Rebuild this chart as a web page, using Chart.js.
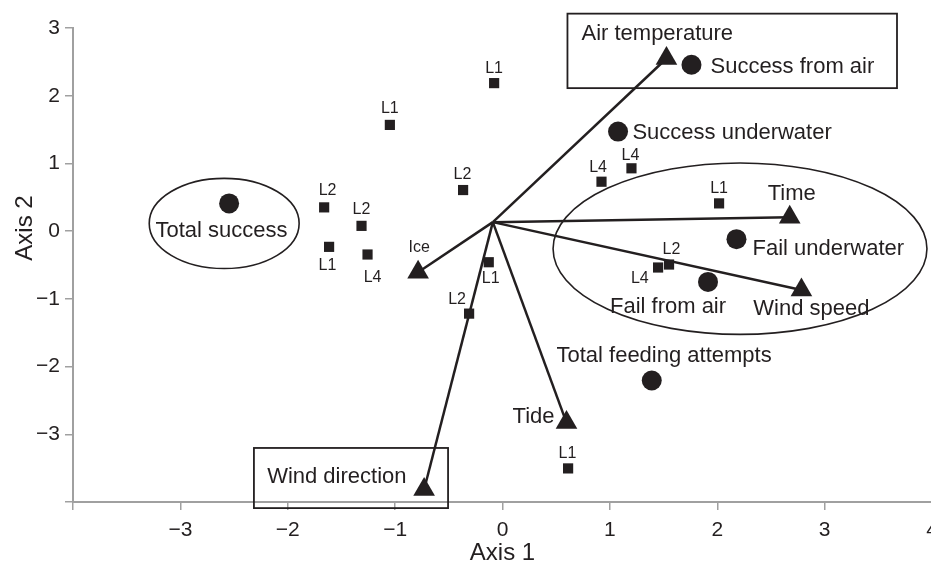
<!DOCTYPE html>
<html><head><meta charset="utf-8">
<script src="https://cdn.jsdelivr.net/npm/chart.js@4.4.1/dist/chart.umd.min.js"></script>
<style>
html,body{margin:0;padding:0;background:#fff;overflow:hidden}
#wrap{width:931px;height:567px;overflow:hidden;position:relative;background:#fff}
canvas{display:block}
</style>
</head><body>
<div id="wrap"><canvas id="c" width="1000" height="567"></canvas></div>
<script>
// ---- data ----
const origin = [-0.09, 0.133];

const variableNames = ['Air temperature', 'Time', 'Wind speed', 'Tide', 'Wind direction', 'Ice'];
const variableX = [1.527, 2.675, 2.784, 0.596, -0.730, -0.786];
const variableY = [2.550, 0.207, -0.870, -2.827, -3.815, -0.607];

const responseNames = ['Total success', 'Success from air', 'Success underwater', 'Fail underwater', 'Fail from air', 'Total feeding attempts'];
const responseX = [-2.546, 1.760, 1.076, 2.179, 1.914, 1.390];
const responseY = [0.410, 2.457, 1.470, -0.118, -0.750, -2.205];

const siteNames = ['L1', 'L1', 'L2', 'L4', 'L4', 'L1', 'L2', 'L2', 'L1', 'L4', 'L1', 'L2', 'L2', 'L4', 'L1'];
const siteX = [-0.078, -1.049, -0.367, 0.922, 1.201, 2.017, -1.661, -1.313, -1.615, -1.257, -0.128, -0.311, 1.551, 1.449, 0.611];
const siteY = [2.186, 1.569, 0.607, 0.730, 0.928, 0.410, 0.351, 0.078, -0.232, -0.345, -0.459, -1.218, -0.493, -0.537, -3.504];

const xTicks = [-4, -3, -2, -1, 0, 1, 2, 3, 4];
const yTicks = [-4, -3, -2, -1, 0, 1, 2, 3];

// group outlines (data units): ellipses [cx, cy, rx, ry], boxes [x1, yTop, x2, yBottom]
const ellipses = [[-2.592, 0.114, 0.698, 0.666], [2.212, -0.259, 1.741, 1.266]];
const boxes = [[0.605, 3.212, 3.674, 2.112], [-2.315, -3.202, -0.507, -4.090]];

// ---- label placement (pixels, relative to marker; dy = cap centre) ----
const variableLabelPos = [
  {dx: -85, dy: -26, align: 'left', size: 22},
  {dx: 2, dy: -25, align: 'center', size: 22},
  {dx: 10, dy: 17, align: 'center', size: 22},
  {dx: -12, dy: -7, align: 'right', size: 22},
  {dx: -17.6, dy: -14.5, align: 'right', size: 22},
  {dx: 1, dy: -26, align: 'center', size: 16}
];
const responseLabelPos = [
  {dx: -7.6, dy: 26, align: 'center'},
  {dx: 19, dy: 0, align: 'left'},
  {dx: 14.4, dy: 0, align: 'left'},
  {dx: 16, dy: 8, align: 'left'},
  {dx: -40, dy: 23, align: 'center'},
  {dx: -95.3, dy: -26, align: 'left'}
];
const siteLabelPos = [
  {dx: 0, dy: -16.3}, {dx: 0, dy: -18}, {dx: -0.6, dy: -16.7}, {dx: -3.4, dy: -15},
  {dx: -1, dy: -14.3}, {dx: 0, dy: -16.6}, {dx: 3.4, dy: -18}, {dx: 0, dy: -18},
  {dx: -1.6, dy: 17.3}, {dx: 5, dy: 21.7}, {dx: 2, dy: 15}, {dx: -12, dy: -15},
  {dx: 2.4, dy: -16}, {dx: -18.3, dy: 9.4}, {dx: -0.6, dy: -16}
];

const ink = '#231f20';
const axisGrey = '#a0a0a0';
const FONT = '"Liberation Sans", Arial, Helvetica, sans-serif';

function pts(xs, ys) { return xs.map((v, i) => ({x: v, y: ys[i]})); }

const vectorSets = variableX.map((vx, i) => ({
  label: 'vec-' + variableNames[i],
  data: [{x: origin[0], y: origin[1]}, {x: vx, y: variableY[i]}],
  showLine: true,
  borderColor: ink,
  borderWidth: 2.5,
  pointRadius: 0,
  order: 5
}));

function drawText(ctx, text, x, y, align, size) {
  ctx.font = size + 'px ' + FONT;
  ctx.textAlign = align;
  ctx.textBaseline = 'alphabetic';
  ctx.fillStyle = ink;
  ctx.fillText(text, x, y + 0.358 * size);
}

const annot = {
  id: 'annot',
  beforeDatasetsDraw(chart) {
    const {ctx} = chart;
    const sx = chart.scales.x, sy = chart.scales.y;
    ctx.save();
    ctx.strokeStyle = ink;
    ctx.lineWidth = 1.6;
    ellipses.forEach(e => {
      const cx = sx.getPixelForValue(e[0]), cy = sy.getPixelForValue(e[1]);
      const rx = Math.abs(sx.getPixelForValue(e[0] + e[2]) - cx);
      const ry = Math.abs(sy.getPixelForValue(e[1] + e[3]) - cy);
      ctx.beginPath();
      ctx.ellipse(cx, cy, rx, ry, 0, 0, Math.PI * 2);
      ctx.stroke();
    });
    ctx.lineWidth = 1.8;
    boxes.forEach(b => {
      const x1 = sx.getPixelForValue(b[0]), y1 = sy.getPixelForValue(b[1]);
      const x2 = sx.getPixelForValue(b[2]), y2 = sy.getPixelForValue(b[3]);
      ctx.strokeRect(x1, y1, x2 - x1, y2 - y1);
    });
    ctx.restore();
  },
  afterDatasetsDraw(chart) {
    const {ctx} = chart;
    ctx.save();
    const byLabel = name => chart.getDatasetMeta(chart.data.datasets.findIndex(d => d.label === name));
    const vm = byLabel('variables');
    vm.data.forEach((el, i) => {
      const p = variableLabelPos[i];
      drawText(ctx, variableNames[i], el.x + p.dx, el.y + p.dy, p.align, p.size);
    });
    const rm = byLabel('responses');
    rm.data.forEach((el, i) => {
      const p = responseLabelPos[i];
      drawText(ctx, responseNames[i], el.x + p.dx, el.y + p.dy, p.align, 22);
    });
    const sm = byLabel('sites');
    sm.data.forEach((el, i) => {
      const p = siteLabelPos[i];
      drawText(ctx, siteNames[i], el.x + p.dx, el.y + p.dy, 'center', 16);
    });
    ctx.restore();
  },
  afterDraw(chart) {
    const {ctx, chartArea} = chart;
    ctx.save();
    ctx.fillStyle = ink;
    ctx.font = '24px ' + FONT;
    ctx.textAlign = 'center';
    ctx.textBaseline = 'middle';
    ctx.fillText('Axis 1', (chartArea.left + chartArea.right) / 2, 553);
    ctx.translate(25, 228);
    ctx.rotate(-Math.PI / 2);
    ctx.fillText('Axis 2', 0, 0);
    ctx.restore();
  }
};

const tickFmt = v => (v === xTicks[0] ? '' : (v < 0 ? '\u2212' + Math.abs(v) : String(v)));
const tickFmtY = v => (v === yTicks[0] ? '' : (v < 0 ? '\u2212' + Math.abs(v) : String(v)));

new Chart(document.getElementById('c'), {
  type: 'scatter',
  data: {
    datasets: [
      {label: 'sites', data: pts(siteX, siteY), pointStyle: 'rect', pointRadius: 7.2, backgroundColor: ink, borderColor: ink, borderWidth: 0, order: 1},
      {label: 'responses', data: pts(responseX, responseY), pointStyle: 'circle', pointRadius: 10, backgroundColor: ink, borderColor: ink, borderWidth: 0, order: 1},
      {label: 'variables', data: pts(variableX, variableY), pointStyle: 'triangle', pointRadius: 12.5, backgroundColor: ink, borderColor: ink, borderWidth: 0, order: 1},
      ...vectorSets
    ]
  },
  options: {
    responsive: false,
    animation: false,
    devicePixelRatio: 1,
    layout: {padding: {left: 0, right: 68, top: 28, bottom: 0}},
    plugins: {legend: {display: false}, tooltip: {enabled: false}},
    scales: {
      x: {
        type: 'linear', min: xTicks[0], max: xTicks[xTicks.length - 1],
        afterBuildTicks: s => { s.ticks = xTicks.map(v => ({value: v})); },
        ticks: {color: ink, font: {family: FONT, size: 21}, padding: 8, callback: tickFmt, maxRotation: 0},
        grid: {drawOnChartArea: false, drawTicks: true, tickLength: 8, color: axisGrey, lineWidth: 1.5},
        border: {display: true, color: axisGrey, width: 2},
        afterFit: s => { s.height = 65; }
      },
      y: {
        type: 'linear', min: yTicks[0], max: yTicks[yTicks.length - 1],
        afterBuildTicks: s => { s.ticks = yTicks.map(v => ({value: v})); },
        ticks: {color: ink, font: {family: FONT, size: 21}, padding: 5, callback: tickFmtY},
        grid: {drawOnChartArea: false, drawTicks: true, tickLength: 8, color: axisGrey, lineWidth: 1.5},
        border: {display: true, color: axisGrey, width: 2},
        afterFit: s => { s.width = 73; }
      }
    }
  },
  plugins: [annot]
});
</script>
</body></html>
